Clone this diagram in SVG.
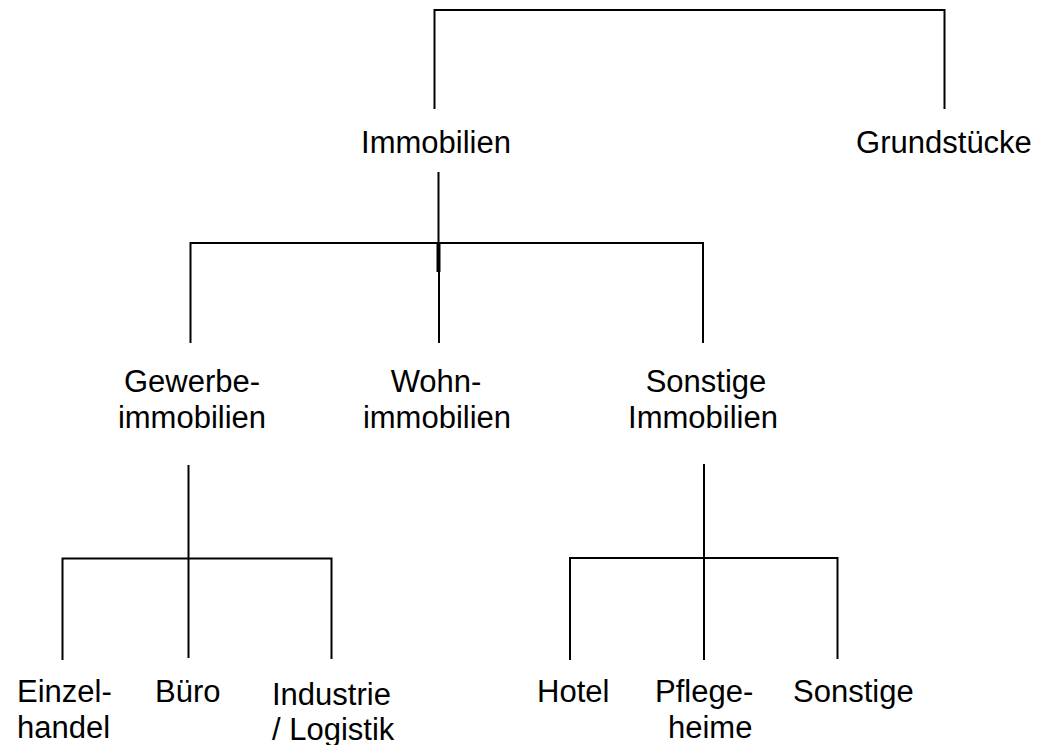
<svg xmlns="http://www.w3.org/2000/svg" width="1038" height="745" viewBox="0 0 1038 745">
<style>
.c{stroke:#000;stroke-width:2;fill:none}
.t{font-family:"Liberation Sans",Arial,sans-serif;font-size:31px;fill:#000}
.m{text-anchor:middle}
</style>
<rect width="1038" height="745" fill="#fff"/>
<g id="connectors">
<path class="c" d="M434.5,109 V10 H944.5 V109"/>
<path class="c" d="M438.5,172 V243"/>
<path class="c" d="M190.5,343 V243 H703 V343"/>
<path class="c" d="M439,243 V343"/>
<path d="M438.5,243 V272" stroke="#000" stroke-width="4"/>
<path class="c" d="M188.5,465 V658"/>
<path class="c" d="M62.5,660 V558.5 H331.5 V659"/>
<path class="c" d="M704,464 V660"/>
<path class="c" d="M570,660 V558 H837.5 V659"/>
</g>
<g id="n-immobilien"><text class="t m" x="436" y="153">Immobilien</text></g>
<g id="n-grundstuecke"><text class="t m" x="944" y="153">Grundstücke</text></g>
<g id="n-gewerbe"><text class="t m" x="192" y="392">Gewerbe-</text><text class="t m" x="192" y="428">immobilien</text></g>
<g id="n-wohn"><text class="t m" x="436" y="392">Wohn-</text><text class="t m" x="437" y="428">immobilien</text></g>
<g id="n-sonstige-imm"><text class="t m" x="706" y="392">Sonstige</text><text class="t m" x="703" y="428">Immobilien</text></g>
<g id="n-einzelhandel"><text class="t" x="17" y="702">Einzel-</text><text class="t" x="17" y="738">handel</text></g>
<g id="n-buero"><text class="t" x="155" y="702">Büro</text></g>
<g id="n-industrie"><text class="t" x="272" y="705">Industrie</text><text class="t" x="272" y="740">/ Logistik</text></g>
<g id="n-hotel"><text class="t" x="537" y="702">Hotel</text></g>
<g id="n-pflege"><text class="t" x="655" y="702">Pflege-</text><text class="t" x="668" y="738">heime</text></g>
<g id="n-sonstige"><text class="t" x="793" y="702">Sonstige</text></g>
</svg>
